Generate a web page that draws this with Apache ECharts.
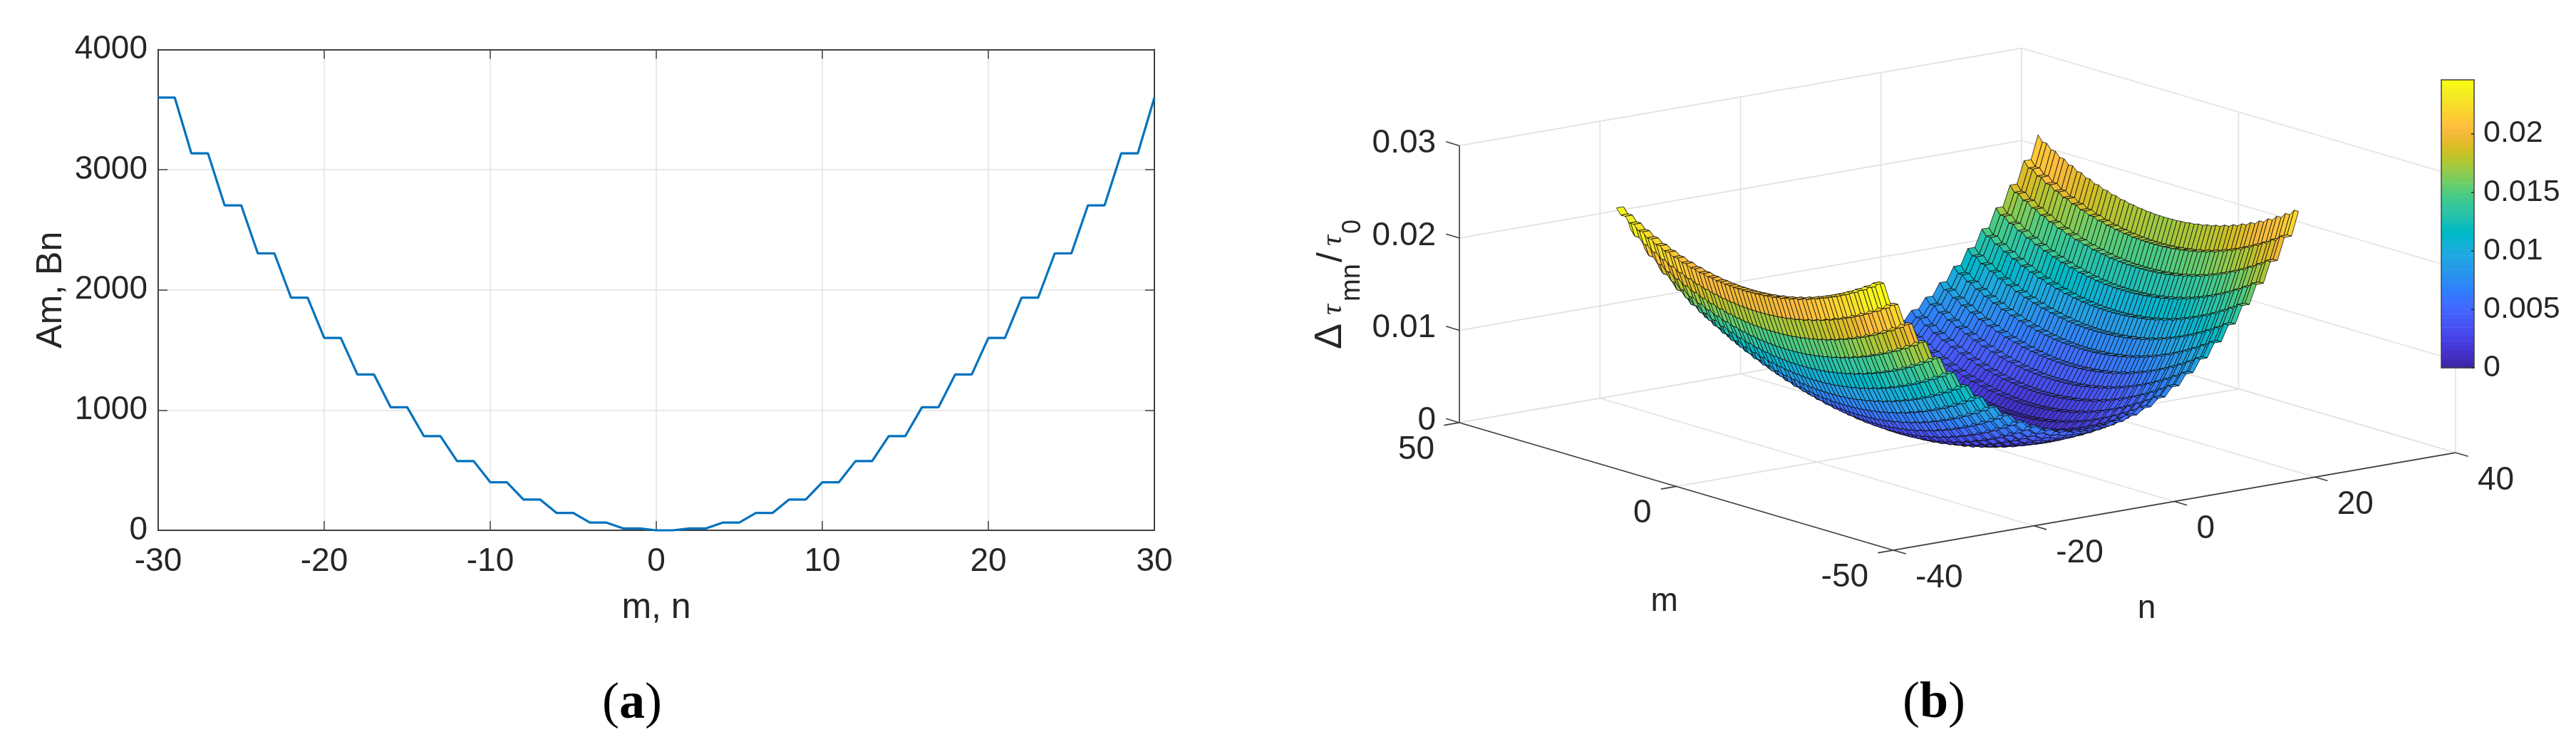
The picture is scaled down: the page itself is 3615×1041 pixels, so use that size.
<!DOCTYPE html>
<html><head><meta charset="utf-8">
<style>html,body{margin:0;padding:0;background:#fff}#c{width:3615px;height:1041px}</style>
<script src="https://cdn.jsdelivr.net/npm/echarts@6/dist/echarts.min.js"></script>
</head><body><div id="c"></div>
<script>
// ---------- data ----------
const indexValues = [-30,-29,-28,-27,-26,-25,-24,-23,-22,-21,-20,-19,-18,-17,-16,-15,-14,-13,-12,-11,-10,-9,-8,-7,-6,-5,-4,-3,-2,-1,0,1,2,3,4,5,6,7,8,9,10,11,12,13,14,15,16,17,18,19,20,21,22,23,24,25,26,27,28,29,30];
const stepValues = [3600,3600,3136,3136,2704,2704,2304,2304,1936,1936,1600,1600,1296,1296,1024,1024,784,784,576,576,400,400,256,256,144,144,64,64,16,16,0,0,16,16,64,64,144,144,256,256,400,400,576,576,784,784,1024,1024,1296,1296,1600,1600,1936,1936,2304,2304,2704,2704,3136,3136,3600];
// delta tau / tau0 contributed per unit of Am and of Bn (read from the surface corners)
const tauPerAm = 1.36e-6;
const tauPerBn = 5.5e-6;
const mTicks = [-50,0,50];
const nTicks = [-40,-20,0,20,40];
const zTicks = [0,0.01,0.02,0.03];
const zTickLabels = ['0','0.01','0.02','0.03'];
const colorbarMax = 0.0246;
const colorbarTicks = [0,0.005,0.01,0.015,0.02];
const colorbarLabels = {'0':'0','0.005':'0.005','0.01':'0.01','0.015':'0.015','0.02':'0.02'};
const parula = [[.2422,.1504,.6603],[.2504,.1650,.7076],[.2578,.1818,.7511],[.2647,.1978,.7952],[.2706,.2147,.8364],[.2751,.2342,.8710],[.2783,.2559,.8991],[.2803,.2782,.9221],[.2813,.3006,.9414],[.2810,.3228,.9579],[.2795,.3447,.9717],[.2760,.3667,.9829],[.2699,.3892,.9906],[.2602,.4123,.9952],[.2440,.4358,.9988],[.2206,.4603,.9973],[.1963,.4847,.9892],[.1834,.5074,.9798],[.1786,.5289,.9682],[.1764,.5499,.9520],[.1687,.5703,.9359],[.1540,.5902,.9218],[.1460,.6091,.9079],[.1380,.6276,.8973],[.1248,.6459,.8883],[.1113,.6635,.8763],[.0952,.6798,.8598],[.0689,.6948,.8394],[.0297,.7082,.8163],[.0036,.7203,.7917],[.0067,.7312,.7660],[.0433,.7411,.7394],[.0964,.7500,.7120],[.1408,.7584,.6842],[.1717,.7670,.6554],[.1938,.7758,.6251],[.2161,.7843,.5923],[.2470,.7918,.5567],[.2906,.7973,.5188],[.3406,.8008,.4789],[.3909,.8029,.4354],[.4456,.8024,.3909],[.5044,.7993,.3480],[.5616,.7942,.3045],[.6174,.7876,.2612],[.6720,.7793,.2227],[.7242,.7698,.1910],[.7738,.7598,.1646],[.8203,.7498,.1535],[.8634,.7406,.1596],[.9035,.7330,.1774],[.9393,.7288,.2100],[.9728,.7298,.2394],[.9956,.7434,.2371],[.9970,.7659,.2199],[.9952,.7893,.2028],[.9892,.8136,.1885],[.9786,.8386,.1766],[.9676,.8639,.1643],[.9610,.8890,.1537],[.9597,.9135,.1423],[.9628,.9373,.1265],[.9691,.9606,.1064],[.9769,.9839,.0805]];

// ---------- view of the 3-D box (orthographic), in view units per data unit ----------
const mVec = [-6.09, 1.79];
const nVec = [9.86, 1.71];
const zVec = [0, 12950];
const project = (m,n,z) => [m*mVec[0]+n*nVec[0]+z*zVec[0], m*mVec[1]+n*nVec[1]+z*zVec[1]];

const TXT = '#262626', AX = '#404040', GRID = '#e2e2e2';
const FONT = '"Liberation Sans",Arial,sans-serif';
const toCss = c => 'rgb(' + c.map(v => Math.round(v*255)).join(',') + ')';
const colourOf = z => parula[Math.min(63, Math.max(0, Math.floor(z/colorbarMax*64)))];

const surfaceZ = (i,j) => tauPerAm*stepValues[i] + tauPerBn*stepValues[j];

// facets, far corner first
const facets = [];
for (let i = indexValues.length-2; i >= 0; i--)
  for (let j = indexValues.length-2; j >= 0; j--) facets.push([i,j]);

// box: grid lines, axes and ticks as 3-D segments
const M0=mTicks[0],M1=mTicks[mTicks.length-1],N0=nTicks[0],N1=nTicks[nTicks.length-1],Z0=zTicks[0],Z1=zTicks[zTicks.length-1];
const seg = [];
nTicks.forEach(n=>{seg.push([[M0,n,Z0],[M1,n,Z0],0]);seg.push([[M1,n,Z0],[M1,n,Z1],0]);});
mTicks.forEach(m=>{seg.push([[m,N0,Z0],[m,N1,Z0],0]);seg.push([[m,N1,Z0],[m,N1,Z1],0]);});
zTicks.forEach(z=>{seg.push([[M1,N0,z],[M1,N1,z],0]);seg.push([[M1,N1,z],[M0,N1,z],0]);});
seg.push([[M1,N0,Z0],[M1,N0,Z1],1]);
seg.push([[M1,N0,Z0],[M0,N0,Z0],1]);
seg.push([[M0,N0,Z0],[M0,N1,Z0],1]);
zTicks.forEach(z=>seg.push([[M1,N0,z],[M1+3.1,N0,z],1]));
mTicks.forEach(m=>seg.push([[m,N0,Z0],[m,N0-2.2,Z0],1]));
nTicks.forEach(n=>seg.push([[M0,n,Z0],[M0-2.9,n,Z0],1]));

// tick and axis-name labels at 3-D anchors
const labels = [];
zTicks.forEach((z,i)=>labels.push({p:[M1,N0,z],t:zTickLabels[i],dx:-33,dy:-3,a:'right'}));
mTicks.forEach(m=>labels.push({p:[m,N0,Z0],t:String(m),dx:-35,dy:38,a:'right'}));
nTicks.forEach(n=>labels.push({p:[M0,n,Z0],t:String(n),dx:31,dy:39,a:'left'}));
labels.push({p:[0,N0,Z0],t:'m',dx:-17,dy:162,a:'center'});
labels.push({p:[M0,0,Z0],t:'n',dx:-39,dy:151,a:'center'});

const hiddenAxis = g => ({gridIndex:g,show:false,type:'value'});
const textStyle = {color:TXT,fontFamily:FONT,fontSize:46};

const option = {
  animation:false,
  backgroundColor:'#fff',
  grid:[
    {left:222,top:69.5,width:1398,height:674.5},
    {left:1900,top:40,width:1700,height:860},
    {left:3426,top:112,width:46,height:404}
  ],
  xAxis:[
    {gridIndex:0,type:'value',min:-30,max:30,interval:10,
     name:'m, n',nameLocation:'middle',nameGap:84,nameTextStyle:{color:TXT,fontFamily:FONT,fontSize:50},
     axisLine:{onZero:false,lineStyle:{color:AX,width:2}},axisTick:{inside:true,length:13,lineStyle:{color:AX,width:1.5}},
     axisLabel:{...textStyle,margin:21,formatter:v=>String(v)},splitLine:{show:true,lineStyle:{color:GRID,width:1.5}}},
    {gridIndex:0,type:'value',position:'top',min:-30,max:30,interval:10,
     axisLine:{onZero:false,lineStyle:{color:AX,width:2}},axisTick:{inside:true,length:13,lineStyle:{color:AX,width:1.5}},
     axisLabel:{show:false},splitLine:{show:false}},
    {...hiddenAxis(1),min:-847,max:853},
    {gridIndex:2,type:'value',min:0,max:1,position:'bottom',axisLine:{onZero:false,lineStyle:{color:AX,width:1.5}},axisTick:{show:false},axisLabel:{show:false},splitLine:{show:false},z:6},
    {gridIndex:2,type:'value',min:0,max:1,position:'top',axisLine:{onZero:false,lineStyle:{color:AX,width:1.5}},axisTick:{show:false},axisLabel:{show:false},splitLine:{show:false},z:6}
  ],
  yAxis:[
    {gridIndex:0,type:'value',min:0,max:4000,interval:1000,
     name:'Am, Bn',nameLocation:'middle',nameGap:125,nameTextStyle:{color:TXT,fontFamily:FONT,fontSize:50},
     axisLine:{onZero:false,lineStyle:{color:AX,width:2}},axisTick:{inside:true,length:13,lineStyle:{color:AX,width:1.5}},
     axisLabel:{...textStyle,margin:15,formatter:v=>String(v)},splitLine:{show:true,lineStyle:{color:GRID,width:1.5}}},
    {gridIndex:0,type:'value',position:'right',min:0,max:4000,interval:1000,
     axisLine:{onZero:false,lineStyle:{color:AX,width:2}},axisTick:{inside:true,length:13,lineStyle:{color:AX,width:1.5}},
     axisLabel:{show:false},splitLine:{show:false}},
    {...hiddenAxis(1),min:-286,max:574},
    {gridIndex:2,type:'value',position:'right',min:0,max:colorbarMax,
     axisLine:{onZero:false,lineStyle:{color:AX,width:1.5}},
     axisTick:{inside:true,length:4,lineStyle:{color:'#222',width:1.5},customValues:colorbarTicks},
     axisLabel:{color:TXT,fontFamily:FONT,fontSize:43,margin:13,customValues:colorbarTicks,formatter:v=>colorbarLabels[String(v)]},
     splitLine:{show:false},z:6},
    {gridIndex:2,type:'value',position:'left',min:0,max:colorbarMax,
     axisLine:{onZero:false,lineStyle:{color:AX,width:1.5}},axisTick:{show:false},axisLabel:{show:false},splitLine:{show:false},z:6}
  ],
  series:[
    {type:'line',name:'Am, Bn',xAxisIndex:0,yAxisIndex:0,showSymbol:false,smooth:false,clip:false,
     data:indexValues.map((x,i)=>[x,stepValues[i]]),lineStyle:{color:'#0072BD',width:3.2},z:3},
    {type:'custom',name:'box',xAxisIndex:2,yAxisIndex:2,clip:false,progressive:0,z:1,silent:true,
     data:seg.map((s,i)=>[i]),
     renderItem:(p,api)=>{
       const s=seg[p.dataIndex];
       const a=api.coord(project(...s[0])),b=api.coord(project(...s[1]));
       return {type:'line',shape:{x1:a[0],y1:a[1],x2:b[0],y2:b[1]},
         style:{stroke:s[2]?AX:GRID,lineWidth:1.6}};
     }},
    {type:'custom',name:'surface',xAxisIndex:2,yAxisIndex:2,clip:false,progressive:0,z:2,silent:true,
     data:facets,
     renderItem:(p,api)=>{
       const i=api.value(0),j=api.value(1);
       const pt=(a,b)=>api.coord(project(indexValues[a],indexValues[b],surfaceZ(a,b)));
       return {type:'polygon',shape:{points:[pt(i,j),pt(i+1,j),pt(i+1,j+1),pt(i,j+1)]},
         style:{fill:toCss(colourOf(surfaceZ(i,j))),stroke:'rgba(15,15,15,0.8)',lineWidth:1}};
     }},
    {type:'custom',name:'labels',xAxisIndex:2,yAxisIndex:2,clip:false,progressive:0,z:4,silent:true,
     data:labels.map((l,i)=>[i]),
     renderItem:(p,api)=>{
       const l=labels[p.dataIndex];
       const c=api.coord(project(...l.p));
       return {type:'text',x:c[0]+l.dx,y:c[1]+l.dy,
         style:{text:l.t,fill:TXT,font:'46px '+FONT,align:l.a,verticalAlign:'middle'}};
     }},
    {type:'custom',name:'colorbar',xAxisIndex:3,yAxisIndex:3,clip:false,progressive:0,z:5,silent:true,
     data:parula.map((c,i)=>[i]),
     renderItem:(p,api)=>{
       const i=p.dataIndex;
       const a=api.coord([0,colorbarMax*(i+1)/64]),b=api.coord([1,colorbarMax*i/64]);
       return {type:'rect',shape:{x:a[0],y:a[1],width:b[0]-a[0],height:b[1]-a[1]+0.6},
         style:{fill:toCss(parula[i])}};
     }},
    {type:'line',xAxisIndex:4,yAxisIndex:4,data:[],silent:true}
  ],
  graphic:{elements:[
    {type:'text',x:887,y:988,style:{text:'{p|(}{b|a}{p|)}',align:'center',verticalAlign:'middle',
      rich:{p:{font:'72px "Liberation Serif"',fill:'#000'},b:{font:'bold 72px "Liberation Serif"',fill:'#000'}}}},
    {type:'text',x:2714,y:987,style:{text:'{p|(}{b|b}{p|)}',align:'center',verticalAlign:'middle',
      rich:{p:{font:'72px "Liberation Serif"',fill:'#000'},b:{font:'bold 72px "Liberation Serif"',fill:'#000'}}}},
    {type:'group',x:1883,y:490,rotation:Math.PI/2,children:[
      {type:'text',x:0,y:11,style:{text:'\u0394',fill:TXT,font:'54px '+FONT,verticalAlign:'bottom'}},
      {type:'text',x:48,y:9,style:{text:'\u03C4',fill:TXT,font:'italic 42px "Liberation Serif"',verticalAlign:'bottom'}},
      {type:'text',x:67,y:34,style:{text:'mn',fill:TXT,font:'38px '+FONT,verticalAlign:'bottom'}},
      {type:'text',x:122,y:11,style:{text:'/',fill:TXT,font:'50px '+FONT,verticalAlign:'bottom'}},
      {type:'text',x:145,y:9,style:{text:'\u03C4',fill:TXT,font:'italic 42px "Liberation Serif"',verticalAlign:'bottom'}},
      {type:'text',x:162,y:34,style:{text:'0',fill:TXT,font:'36px '+FONT,verticalAlign:'bottom'}}
    ]}
  ]}
};
const chart = echarts.init(document.getElementById('c'));
chart.setOption(option);
</script>
</body></html>
